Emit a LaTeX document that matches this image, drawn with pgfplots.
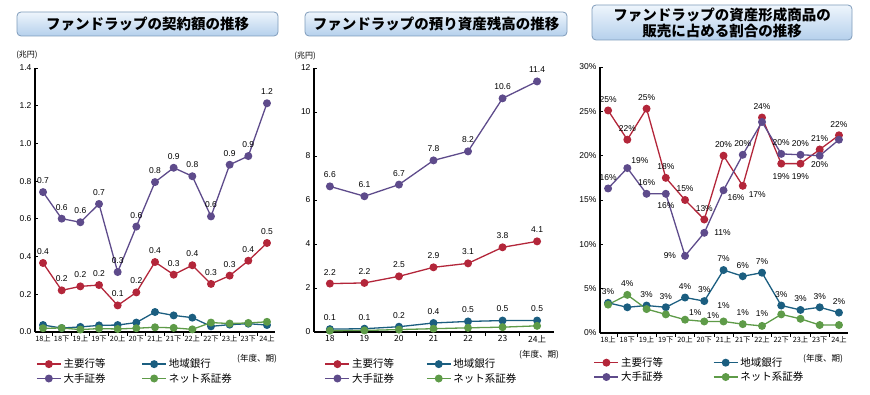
\documentclass[border=0pt]{standalone}
\usepackage{fontspec}
\setmainfont{Liberation Sans}
\newfontfamily\jp{Noto Sans CJK JP}
\usepackage{pgfplots}
\pgfplotsset{compat=1.18}
\definecolor{cRed}{HTML}{B3263A}
\definecolor{cBlue}{HTML}{1B5E80}
\definecolor{cPur}{HTML}{5E4B8B}
\definecolor{cGrn}{HTML}{5E9B48}
\definecolor{boxtop}{HTML}{EEF5FC}
\definecolor{boxbot}{HTML}{B5D0EC}
\definecolor{boxborder}{HTML}{7E9BBA}
\pgfplotsset{
 base/.style={scale only axis, anchor=south west, clip=false,
   axis x line*=bottom, axis y line*=left,
   axis line style={line width=1.1pt, black},
   ytick align=inside, major tick length=3pt,
   every tick/.style={line width=0.8pt, black},
   major x tick style={draw=none},
   extra x tick style={major x tick style={draw=black, line width=0.8pt}, xtick align=outside, major tick length=4pt},
   extra x tick labels={},
   /pgf/number format/assume math mode=true,
   tick label style={font=\fontsize{8.5}{9}\selectfont},
   xticklabel style={font=\jp\fontsize{7.3}{8}\selectfont},
   legend columns=2,
   legend cell align=left,
   legend style={draw=none, fill=none, anchor=north west, font=\jp\fontsize{10.5}{12}\selectfont, inner sep=1pt, row sep=0pt},
   legend image code/.code={\draw[mark repeat=2,mark phase=2] plot coordinates {(0pt,0pt) (12pt,0pt) (24pt,0pt)};},
 },
 ser/.style={color=#1, line width=1.3pt, mark=*, mark size=3.3pt, mark options={solid, fill=#1}},
 lab/.style={nodes near coords, point meta=explicit symbolic,
   nodes near coords style={anchor=south, font=\fontsize{8.5}{9}\selectfont, text=black, outer sep=7.5pt, inner sep=1pt}},
 labx/.style={nodes near coords, point meta=explicit symbolic,
   visualization depends on={value \thisrow{anc}\as\myanc},
   visualization depends on={value \thisrow{sep}\as\mysep},
   nodes near coords style={anchor=\myanc, font=\fontsize{8.5}{9}\selectfont, text=black, outer sep=\mysep pt, inner sep=1pt}},
}
\begin{document}
\begin{tikzpicture}[x=1pt,y=1pt]
\path[use as bounding box] (0,0) rectangle (870,394);
\tikzset{tbox/.style={draw=boxborder, line width=0.8pt, rounded corners=4pt, top color=boxtop, bottom color=boxbot, font=\jp\bfseries\fontsize{14.5}{16}\selectfont, align=center, inner sep=0pt}}
\node[tbox, minimum width=261pt, minimum height=24pt] at (147.5,370) {ファンドラップの契約額の推移};
\node[tbox, minimum width=262pt, minimum height=24pt] at (436,370) {ファンドラップの預り資産残高の推移};
\node[tbox, minimum width=260pt, minimum height=35pt] at (722,371.5) {ファンドラップの資産形成商品の\\販売に占める割合の推移};

\node[font=\jp\fontsize{8}{9}\selectfont] at (27,339) {(兆円)};
\node[font=\jp\fontsize{8}{9}\selectfont] at (305,338) {(兆円)};
\node[font=\jp\fontsize{8.5}{9}\selectfont] at (257,35) {(年度、期)};
\node[font=\jp\fontsize{8.5}{9}\selectfont] at (539,39) {(年度、期)};
\node[font=\jp\fontsize{8.5}{9}\selectfont] at (823,35) {(年度、期)};

% ---------- Panel 1 ----------
\begin{axis}[base, at={(35pt,62pt)}, width=240pt, height=264pt,
  xmin=-0.43, xmax=12.43, ymin=0, ymax=1.4,
  ytick={0,0.2,0.4,0.6,0.8,1.0,1.2,1.4},
  yticklabel style={/pgf/number format/.cd, fixed, fixed zerofill, precision=1},
  xtick={0,...,12},
  xticklabels={18上,18下,19上,19下,20上,20下,21上,21下,22上,22下,23上,23下,24上},
  extra x ticks={0.5,1.5,...,11.5},
  legend style={at={(0.0,-0.09)}, /tikz/every even column/.append style={column sep=34pt}}]
\addplot[ser=cRed, lab] table[x=x, y=y, meta=lab] {
x y lab
0 0.366 0.4
1 0.221 0.2
2 0.242 0.2
3 0.249 0.2
4 0.141 0.1
5 0.210 0.2
6 0.371 0.4
7 0.304 0.3
8 0.354 0.4
9 0.255 0.3
10 0.299 0.3
11 0.378 0.4
12 0.472 0.5
};
\addlegendentry{主要行等}
\addplot[ser=cBlue] table[x=x, y=y] {
x y
0 0.037
1 0.021
2 0.027
3 0.035
4 0.037
5 0.050
6 0.106
7 0.088
8 0.076
9 0.030
10 0.039
11 0.044
12 0.037
};
\addlegendentry{地域銀行}
\addplot[ser=cPur, lab] table[x=x, y=y, meta=lab] {
x y lab
0 0.742 0.7
1 0.601 0.6
2 0.582 0.6
3 0.679 0.7
4 0.318 0.3
5 0.559 0.6
6 0.795 0.8
7 0.871 0.9
8 0.826 0.8
9 0.613 0.6
10 0.887 0.9
11 0.933 0.9
12 1.213 1.2
};
\addlegendentry{大手証券}
\addplot[ser=cGrn] table[x=x, y=y] {
x y
0 0.020
1 0.021
2 0.013
3 0.018
4 0.016
5 0.020
6 0.025
7 0.022
8 0.014
9 0.050
10 0.045
11 0.048
12 0.054
};
\addlegendentry{ネット系証券}
\end{axis}

% ---------- Panel 2 ----------
\begin{axis}[base, at={(314pt,62pt)}, width=240pt, height=264pt,
  xmin=-0.46, xmax=6.49, ymin=0, ymax=12,
  ytick={0,2,4,6,8,10,12},
  xtick={0,...,6},
  xticklabels={18,19,20,21,22,23,24上},
  xticklabel style={font=\jp\fontsize{8.5}{9}\selectfont},
  extra x ticks={0.5,1.5,...,5.5},
  legend style={at={(0.04,-0.09)}, /tikz/every even column/.append style={column sep=30pt}}]
\addplot[ser=cRed, lab] table[x=x, y=y, meta=lab] {
x y lab
0 2.20 2.2
1 2.23 2.2
2 2.53 2.5
3 2.94 2.9
4 3.12 3.1
5 3.85 3.8
6 4.12 4.1
};
\addlegendentry{主要行等}
\addplot[ser=cBlue, lab] table[x=x, y=y, meta=lab] {
x y lab
0 0.13 0.1
1 0.15 0.1
2 0.24 0.2
3 0.41 0.4
4 0.48 0.5
5 0.52 0.5
6 0.52 0.5
};
\addlegendentry{地域銀行}
\addplot[ser=cPur, lab] table[x=x, y=y, meta=lab] {
x y lab
0 6.62 6.6
1 6.17 6.1
2 6.70 6.7
3 7.80 7.8
4 8.21 8.2
5 10.62 10.6
6 11.39 11.4
};
\addlegendentry{大手証券}
\addplot[ser=cGrn] table[x=x, y=y] {
x y
0 0.06
1 0.07
2 0.11
3 0.15
4 0.19
5 0.22
6 0.28
};
\addlegendentry{ネット系証券}
\end{axis}

% ---------- Panel 3 ----------
\begin{axis}[base, at={(600pt,61pt)}, width=248pt, height=266pt,
  xmin=-0.42, xmax=12.47, ymin=0, ymax=30,
  ytick={0,5,10,15,20,25,30},
  yticklabel={\pgfmathprintnumber{\tick}\%},
  xtick={0,...,12},
  xticklabels={18上,18下,19上,19下,20上,20下,21上,21下,22上,22下,23上,23下,24上},
  extra x ticks={0.5,1.5,...,11.5},
  legend style={at={(-0.03,-0.08)}, /tikz/every even column/.append style={column sep=48pt}}]
\addplot[ser=cRed, labx] table[x=x, y=y, meta=lab] {
x y lab anc sep
0 25.1 25\% south 7
1 21.8 22\% south 7
2 25.3 25\% south 7
3 17.5 18\% south 7
4 15.0 15\% south 7
5 12.8 13\% south 7
6 20.0 20\% south 7
7 16.6 17\% {north west} 5
8 24.3 24\% south 7
9 19.1 19\% north 9
10 19.1 19\% north 9
11 20.7 21\% south 7
12 22.3 22\% south 7
};
\addlegendentry{主要行等}
\addplot[ser=cBlue, labx] table[x=x, y=y, meta=lab] {
x y lab anc sep
0 3.4 3\% south 7
1 2.9 {} south 7
2 3.1 3\% south 7
3 2.9 3\% south 7
4 4.0 4\% south 7
5 3.6 3\% south 7
6 7.1 7\% south 7
7 6.4 6\% south 7
8 6.8 7\% south 7
9 3.1 3\% south 7
10 2.6 3\% south 7
11 2.9 3\% south 7
12 2.3 2\% south 7
};
\addlegendentry{地域銀行}
\addplot[ser=cPur, labx] table[x=x, y=y, meta=lab] {
x y lab anc sep
0 16.3 16\% south 7
1 18.6 19\% {south west} 3
2 15.7 16\% south 7
3 15.7 16\% north 8
4 8.7 9\% east 8
5 11.3 11\% west 9
6 16.1 16\% {north west} 3
7 20.1 20\% south 7
8 23.8 {} south 7
9 20.2 20\% south 7
10 20.1 20\% south 7
11 20.0 20\% north 5
12 21.8 {} south 7
};
\addlegendentry{大手証券}
\addplot[ser=cGrn, labx] table[x=x, y=y, meta=lab] {
x y lab anc sep
0 3.2 {} south 7
1 4.3 4\% south 7
2 2.7 {} south 7
3 2.1 {} south 7
4 1.5 1\% {south west} 3
5 1.3 1\% {south west} 1.5
6 1.3 1\% south 12
7 1.0 1\% south 8
8 0.8 1\% south 8
9 2.1 {} south 7
10 1.6 {} south 7
11 0.9 {} south 7
12 0.9 {} south 7
};
\addlegendentry{ネット系証券}
\end{axis}
\end{tikzpicture}
\end{document}
